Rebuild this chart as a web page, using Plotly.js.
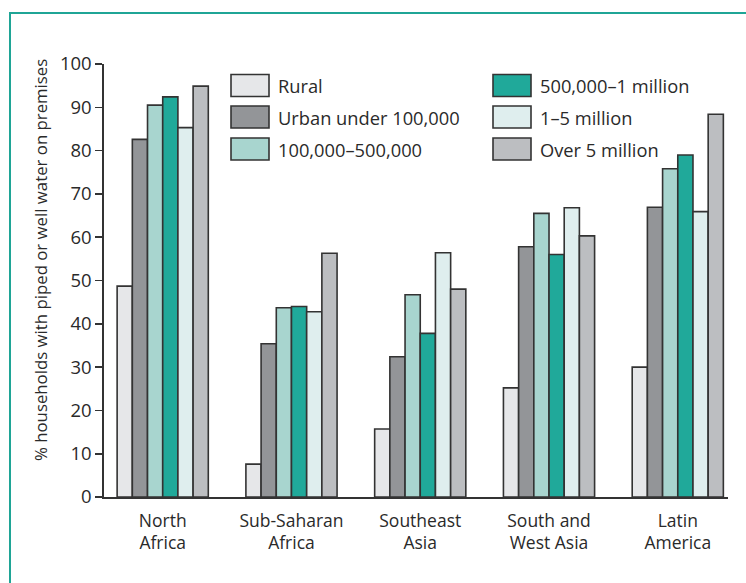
<!DOCTYPE html>
<html>
<head>
<meta charset="utf-8">
<script src="https://cdn.plot.ly/plotly-3.0.1.min.js"></script>
<style>
  html, body { margin: 0; padding: 0; background: #ffffff; overflow: hidden; }
  #frame { position: absolute; left: 9px; top: 12px; width: 800px; height: 700px;
           border-left: 2px solid #1fa596; border-top: 2px solid #1fa596; pointer-events: none; }
  #chart { position: absolute; left: 0; top: 0; width: 746px; height: 583px; }
</style>
</head>
<body>
<div id="chart"></div>
<div id="frame"></div>
<script>
// ---- data ----
const categories = ['North<br>Africa', 'Sub-Saharan<br>Africa', 'Southeast<br>Asia', 'South and<br>West Asia', 'Latin<br>America'];
const seriesNames = ['Rural', 'Urban under 100,000', '100,000–500,000', '500,000–1 million', '1–5 million', 'Over 5 million'];
const rural      = [48.7, 7.6, 15.7, 25.2, 30.0];
const urbanUnder = [82.6, 35.4, 32.4, 57.8, 66.9];
const from100k   = [90.5, 43.7, 46.7, 65.5, 75.8];
const from500k   = [92.4, 44.0, 37.8, 56.0, 79.0];
const oneToFive  = [85.3, 42.8, 56.4, 66.8, 65.9];
const overFive   = [94.9, 56.3, 48.0, 60.3, 88.4];
const yTickVals  = [0, 10, 20, 30, 40, 50, 60, 70, 80, 90, 100];
const yTitle = '% households with piped or well water on premises';

// ---- styling ----
const colors = ['#e6e7e9', '#939598', '#a8d5cf', '#20a99a', '#dfeeee', '#bcbec1'];
const seriesValues = [rural, urbanUnder, from100k, from500k, oneToFive, overFive];
const FONT = '"Open Sans", Lato, sans-serif';
const INK = '#2a2a2a';

const W = 746, H = 583;
const M = {l: 104, r: 18, t: 64, b: 86};
const pw = W - M.l - M.r, ph = H - M.t - M.b;
const px = x => (x - M.l) / pw;
const py = y => (H - M.b - y) / ph;

const traces = seriesNames.map((name, i) => ({
  type: 'bar',
  name: name,
  x: categories,
  y: seriesValues[i],
  marker: {color: colors[i], line: {color: '#333333', width: 1.6}},
  showlegend: false,
  hoverinfo: 'x+y+name'
}));

// custom legend: two columns of three large swatches
const shapes = [];
const annotations = [];
const colX = [231, 493];
const rowY = [85.5, 117, 149];
seriesNames.forEach((name, i) => {
  const c = Math.floor(i / 3), r = i % 3;
  const bx = colX[c], by = rowY[r];
  shapes.push({
    type: 'rect', xref: 'paper', yref: 'paper',
    x0: px(bx), x1: px(bx + 38), y0: py(by + 11), y1: py(by - 11),
    fillcolor: colors[i], line: {color: '#333333', width: 1.6}
  });
  annotations.push({
    xref: 'paper', yref: 'paper', x: px(bx + 45), y: py(by),
    xanchor: 'left', yanchor: 'middle', showarrow: false,
    text: name, font: {family: FONT, size: 18.3, color: INK}
  });
});
annotations.push({
  xref: 'paper', yref: 'paper', x: px(40), y: py(260),
  xanchor: 'center', yanchor: 'middle', showarrow: false, textangle: -90,
  text: yTitle, font: {family: FONT, size: 16.8, color: INK}
});

const layout = {
  width: W, height: H,
  margin: M,
  paper_bgcolor: 'rgba(0,0,0,0)',
  plot_bgcolor: 'rgba(0,0,0,0)',
  barmode: 'group',
  bargap: 0.292,
  bargroupgap: 0,
  font: {family: FONT, color: INK},
  showlegend: false,
  xaxis: {
    type: 'category',
    range: [-0.456, 4.39],
    showline: true, linecolor: '#333333', linewidth: 1.6,
    ticks: '', showgrid: false, zeroline: false,
    tickfont: {family: FONT, size: 17.5, color: INK},
    ticklabelstandoff: 7,
    fixedrange: true
  },
  yaxis: {
    range: [0, 100],
    tickvals: yTickVals,
    showline: true, linecolor: '#333333', linewidth: 1.6,
    ticks: 'outside', ticklen: 7, tickwidth: 1.6, tickcolor: '#333333',
    showgrid: false, zeroline: false,
    tickfont: {family: FONT, size: 18.5, color: INK},
    fixedrange: true
  },
  shapes: shapes,
  annotations: annotations
};

Plotly.newPlot('chart', traces, layout, {displayModeBar: false, staticPlot: true});
</script>
</body>
</html>
